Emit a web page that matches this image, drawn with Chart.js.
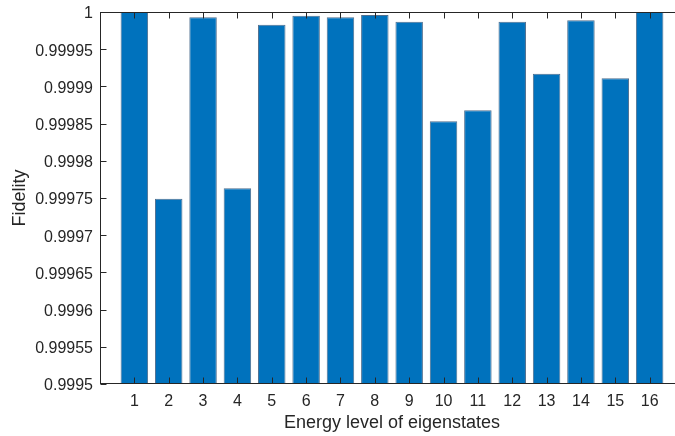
<!DOCTYPE html>
<html>
<head>
<meta charset="utf-8">
<script src="https://cdn.jsdelivr.net/npm/chart.js@4/dist/chart.umd.min.js"></script>
<style>
  html, body { margin: 0; padding: 0; background: #fff; overflow: hidden; }
  #wrap { width: 675px; height: 436px; overflow: hidden; position: relative; }
  #c { display: block; }
</style>
</head>
<body>
<div id="wrap"><canvas id="c" width="690" height="436"></canvas></div>
<script>
// ---- data ----
const levels = [1, 2, 3, 4, 5, 6, 7, 8, 9, 10, 11, 12, 13, 14, 15, 16];
const fidelity = [1.000000, 0.999749, 0.999993, 0.999763, 0.999983, 0.999995, 0.999993, 0.999996,
                  0.999987, 0.999853, 0.999868, 0.999987, 0.999917, 0.999989, 0.999911, 1.000000];
const yTicks = [0.9995, 0.99955, 0.9996, 0.99965, 0.9997, 0.99975, 0.9998, 0.99985, 0.9999, 0.99995, 1];
const xLabel = 'Energy level of eigenstates';
const yLabel = 'Fidelity';

const TXT = '#262626';
const FONT = '"Liberation Sans", Arial, Helvetica, sans-serif';

const boxTicks = {
  id: 'boxTicks',
  afterDatasetsDraw(chart) {
    const { ctx, chartArea: a, scales: { x, y } } = chart;
    ctx.save();
    ctx.strokeStyle = TXT;
    ctx.lineWidth = 1;
    ctx.beginPath();
    const top = Math.round(a.top) + 0.5, left = Math.round(a.left) + 0.5, bot = Math.round(a.bottom) - 0.5;
    ctx.moveTo(left - 0.5, top); ctx.lineTo(a.right, top);
    ctx.moveTo(left, top); ctx.lineTo(left, bot + 0.5);
    ctx.moveTo(left - 0.5, bot); ctx.lineTo(a.right, bot);
    const L = 6;
    x.ticks.forEach(t => {
      const px = Math.round(x.getPixelForValue(t.value)) + 0.5;
      ctx.moveTo(px, top); ctx.lineTo(px, top + L);
      ctx.moveTo(px, bot); ctx.lineTo(px, bot - L);
    });
    y.ticks.forEach(t => {
      const py = Math.round(y.getPixelForValue(t.value)) + 0.5;
      ctx.moveTo(left, py); ctx.lineTo(left + L, py);
    });
    ctx.stroke();
    ctx.restore();
  }
};

new Chart(document.getElementById('c'), {
  type: 'bar',
  data: {
    datasets: [{
      data: levels.map((l, i) => ({ x: l, y: fidelity[i] })),
      base: yTicks[0],
      backgroundColor: '#0072BD',
      borderColor: '#4f6f8f',
      borderWidth: 1,
      categoryPercentage: 0.8,
      barPercentage: 1.0
    }]
  },
  options: {
    responsive: false,
    animation: false,
    events: [],
    layout: { padding: { top: 12, right: 6, bottom: 0, left: 0 } },
    plugins: { legend: { display: false }, tooltip: { enabled: false } },
    scales: {
      x: {
        type: 'linear',
        offset: false,
        min: 0, max: 17,
        afterBuildTicks: s => { s.ticks = levels.map(v => ({ value: v })); },
        afterFit: s => { s.height = 52; s.paddingLeft = 0; s.paddingRight = 0; },
        grid: { display: false, drawTicks: false },
        border: { display: false },
        ticks: {
          color: TXT, font: { family: FONT, size: 16 }, padding: 8,
          maxRotation: 0, autoSkip: false,
          callback: v => String(v)
        },
        title: {
          display: true, text: xLabel, color: TXT,
          font: { family: FONT, size: 18 }, padding: { top: 0, bottom: 2 }
        }
      },
      y: {
        min: yTicks[0], max: yTicks[yTicks.length - 1],
        afterBuildTicks: s => { s.ticks = yTicks.map(v => ({ value: v })); },
        afterFit: s => { s.width = 100; s.paddingTop = 0; s.paddingBottom = 0; },
        grid: { display: false, drawTicks: false },
        border: { display: false },
        ticks: {
          color: TXT, font: { family: FONT, size: 16 }, padding: 7, labelOffset: 2,
          callback: v => String(Number(v.toFixed(6)))
        },
        title: {
          display: true, text: yLabel, color: TXT,
          font: { family: FONT, size: 18 }, padding: { top: 9, bottom: 0 }
        }
      }
    }
  },
  plugins: [boxTicks]
});
</script>
</body>
</html>
